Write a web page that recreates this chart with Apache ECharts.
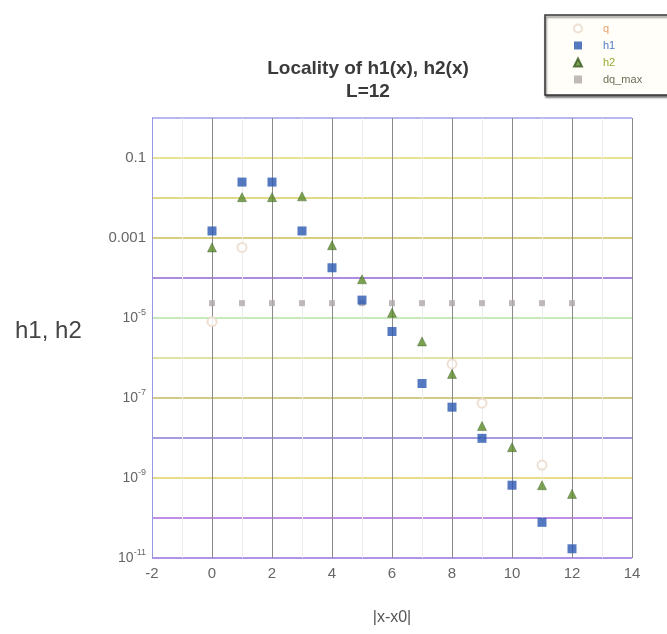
<!DOCTYPE html>
<html>
<head>
<meta charset="utf-8">
<script src="https://cdn.jsdelivr.net/npm/echarts@6/dist/echarts.min.js"></script>
<style>
html,body{margin:0;padding:0;background:#fff;}
#chart{width:667px;height:634px;}
</style>
</head>
<body>
<div id="chart"></div>
<script>
// x positions |x-x0|
var xs = [0, 1, 2, 3, 4, 5, 6, 7, 8, 9, 10, 11, 12];
// h1 values
var h1 = [1.5e-3, 2.5e-2, 2.5e-2, 1.5e-3, 1.8e-4, 2.8e-5, 4.6e-6, 2.3e-7, 5.9e-8, 9.8e-9, 6.6e-10, 7.8e-11, 1.7e-11];
// h2 values
var h2 = [5.8e-4, 1.05e-2, 1.05e-2, 1.1e-2, 6.6e-4, 9.3e-5, 1.35e-5, 2.6e-6, 4.0e-7, 2.0e-8, 5.9e-9, 6.6e-10, 4.0e-10];
// q (only visible points)
var qX = [0, 1, 8, 9, 11];
var qY = [8.1e-6, 5.8e-4, 7.1e-7, 7.4e-8, 2.1e-9];
// dq_max
var dqMax = [2.35e-5, 2.35e-5, 2.35e-5, 2.35e-5, 2.35e-5, 2.35e-5, 2.35e-5, 2.35e-5, 2.35e-5, 2.35e-5, 2.35e-5, 2.35e-5, 2.35e-5];
// axis
var xTicks = [-2, 0, 2, 4, 6, 8, 10, 12, 14];
var yLabelExponents = [-1, -3, -5, -7, -9, -11];
var titleLines = ['Locality of h1(x), h2(x)', 'L=12'];

function pairs(xa, ya) { return xa.map(function (x, i) { return [x, ya[i]]; }); }

// one colour per decade line, from 1e-11 up to 1e0
var gridColors = ['#9470e0', '#a868e0', '#e0d060', '#8878d8', '#c8b860', '#d4d880',
                  '#b4e0a0', '#9464d4', '#ccbc54', '#d8cc60', '#e0d870', '#a0a0e8'];

var chart = echarts.init(document.getElementById('chart'), null, {renderer: 'canvas'});
chart.setOption({
  animation: false,
  backgroundColor: '#fff',
  textStyle: {fontFamily: 'Liberation Sans'},
  title: {
    text: titleLines.join('\n'),
    left: 363, top: 52, textAlign: 'center',
    textStyle: {fontSize: 19, fontWeight: 'bold', color: '#3a3a3a', lineHeight: 23, fontFamily: 'Liberation Sans'}
  },
  legend: {
    orient: 'vertical', left: 545, top: 15,
    padding: [8, 60, 10, 28],
    itemGap: 6, itemWidth: 8, itemHeight: 8,
    backgroundColor: '#fffef8',
    borderColor: '#333', borderWidth: 1.5,
    shadowColor: 'rgba(0,0,0,0.5)', shadowOffsetY: 2, shadowOffsetX: 1, shadowBlur: 2,
    textStyle: {fontSize: 11, fontFamily: 'Liberation Sans', padding: [0, 0, 0, 16]},
    data: [
      {name: 'q', textStyle: {color: '#e8a070'}},
      {name: 'h1', textStyle: {color: '#5078c8'}},
      {name: 'h2', textStyle: {color: '#98a830'}},
      {name: 'dq_max', textStyle: {color: '#707058'}}
    ]
  },
  grid: {left: 152, right: 35, top: 118, bottom: 76, containLabel: false},
  xAxis: {
    type: 'value', min: -2, max: 14, interval: 2,
    name: '|x-x0|', nameLocation: 'middle', nameGap: 52,
    nameTextStyle: {fontSize: 16, color: '#555'},
    axisLine: {show: false},
    axisTick: {show: false},
    axisLabel: {fontSize: 15, color: '#666', margin: 8},
    splitLine: {show: true, lineStyle: {color: '#8a8a8a', width: 1}},
    minorTick: {show: false, splitNumber: 2},
    minorSplitLine: {show: true, lineStyle: {color: '#ececec', width: 1}}
  },
  yAxis: {
    type: 'log', logBase: 10, min: 1e-11, max: 1, interval: 1,
    axisLine: {show: true, onZero: false, lineStyle: {color: '#9898e0', width: 1}},
    axisTick: {show: false},
    axisLabel: {
      margin: 6, color: '#666', fontSize: 15,
      formatter: function (v) {
        var e = Math.round(Math.log10(v));
        if (yLabelExponents.indexOf(e) < 0) return '';
        if (e === -1) return '0.1';
        if (e === -3) return '0.001';
        return '{b|10}{s|' + e + '}';
      },
      rich: {
        b: {fontSize: 14, color: '#666'},
        s: {fontSize: 9, color: '#666', padding: [0, 0, 10, 0]}
      }
    },
    splitLine: {show: true, lineStyle: {color: gridColors, width: 1.5}}
  },
  graphic: [
    {type: 'text', left: 15, top: 319, style: {text: 'h1, h2', fontSize: 24, fill: '#444', fontFamily: 'Liberation Sans'}}
  ],
  series: [
    {
      name: 'q', type: 'scatter', data: pairs(qX, qY),
      symbol: 'emptyCircle', symbolSize: 9,
      itemStyle: {color: '#ead8c8', borderColor: '#ead0b8', borderWidth: 1.2}, z: 2
    },
    {
      name: 'dq_max', type: 'scatter', data: pairs(xs, dqMax),
      symbol: 'rect', symbolSize: 6,
      itemStyle: {color: '#b0a8a8'}, z: 3
    },
    {
      name: 'h2', type: 'scatter', data: pairs(xs, h2),
      symbol: 'triangle', symbolSize: 9,
      itemStyle: {color: '#5a8a28', borderColor: '#3a5a20', borderWidth: 0.5}, z: 4
    },
    {
      name: 'h1', type: 'scatter', data: pairs(xs, h1),
      symbol: 'rect', symbolSize: 9,
      itemStyle: {color: '#2a58b0'}, z: 5
    }
  ]
});
</script>
</body>
</html>
